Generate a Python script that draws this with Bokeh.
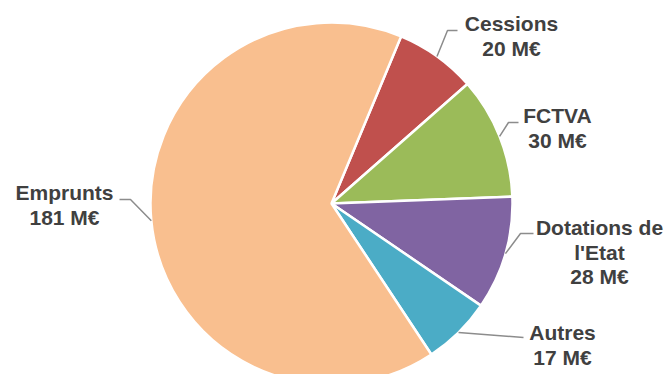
import math
from bokeh.plotting import figure
from bokeh.models import ColumnDataSource
from bokeh.core.properties import value
from bokeh.embed import file_html
from bokeh.resources import INLINE

# ---- data ----
categories = ["Cessions", "FCTVA", "Dotations de l'Etat", "Autres", "Emprunts"]
values = [20, 30, 28, 17, 181]
label_lines = [
    ["Cessions", "20 M€"],
    ["FCTVA", "30 M€"],
    ["Dotations de", "l'Etat", "28 M€"],
    ["Autres", "17 M€"],
    ["Emprunts", "181 M€"],
]
colors = ["#C0504D", "#9BBB59", "#8064A2", "#4BACC6", "#F9BF8F"]

# ---- layout (image pixel coords, y down) ----
W, H = 665, 374
CX, CY, R = 331, 203, 181
START_FROM_TOP_DEG = 22.6  # first slice begins this far clockwise from 12 o'clock
label_pos = [(511, 23), (557, 115), (599, 227), (562, 332), (64, 192)]
leader_pts = [
    [(447, 30), (457, 30)],
    [(508, 122), (518, 122)],
    [(520, 233), (533, 233)],
    [(523, 337)],
    [(130, 199), (119, 199)],
]
LINE_STEP = 24.5

def fy(y):
    return H - y

p = figure(width=W, height=H, x_range=(0, W), y_range=(0, H),
           output_backend="svg", toolbar_location=None, min_border=0)
p.axis.visible = False
p.grid.visible = False
p.outline_line_color = None
p.background_fill_color = "white"
p.border_fill_color = "white"

total = sum(values)
offset = math.radians(90 - START_FROM_TOP_DEG)
starts, ends, mids = [], [], []
cum = 0
for v in values:
    a0 = offset - cum / total * 2 * math.pi
    cum += v
    a1 = offset - cum / total * 2 * math.pi
    starts.append(a1)
    ends.append(a0)
    mids.append((a0 + a1) / 2)

src = ColumnDataSource(dict(x=[CX] * len(values), y=[fy(CY)] * len(values),
                            start=starts, end=ends, color=colors, cat=categories, val=values))
p.wedge(x="x", y="y", radius=R, start_angle="start", end_angle="end",
        fill_color="color", line_color="white", line_width=2.5, source=src)

# leader lines
for m, pts in zip(mids, leader_pts):
    ex = CX + R * math.cos(m)
    ey = fy(CY) + R * math.sin(m)
    xs = [ex] + [q[0] for q in pts]
    ys = [ey] + [fy(q[1]) for q in pts]
    p.line(xs, ys, line_color="#8C8C8C", line_width=1.5)

# labels
tx, ty, tt = [], [], []
for (lx, ly), lines in zip(label_pos, label_lines):
    for i, t in enumerate(lines):
        tx.append(lx)
        ty.append(fy(ly + i * LINE_STEP))
        tt.append(t)
p.text(x=tx, y=ty, text=tt, text_align="center", text_baseline="middle",
       text_font=value("Liberation Sans"), text_font_style="bold",
       text_font_size="21px", text_color="#404040")

open("out.html", "w").write(file_html(p, INLINE))
